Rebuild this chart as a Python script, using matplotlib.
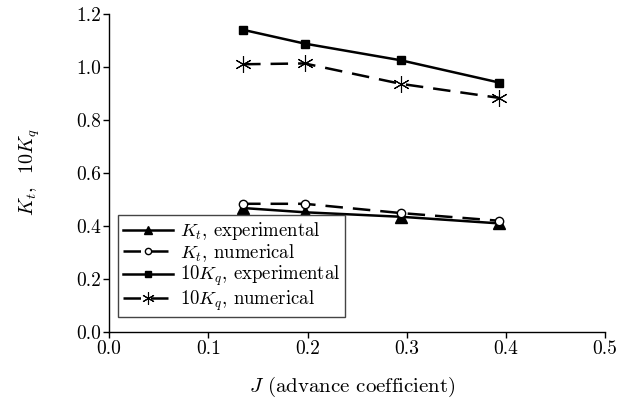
import matplotlib
matplotlib.use("Agg")
import matplotlib.pyplot as plt
from matplotlib.ticker import FormatStrFormatter, MultipleLocator

plt.rcParams['font.family'] = ['cmr10', 'DejaVu Serif']
plt.rcParams['mathtext.fontset'] = 'cm'
plt.rcParams['axes.formatter.use_mathtext'] = True

J = [0.135, 0.197, 0.294, 0.393]
kt_exp = [0.467, 0.451, 0.434, 0.409]
kt_num = [0.483, 0.483, 0.448, 0.419]
kq_exp = [1.140, 1.088, 1.025, 0.941]
kq_num = [1.010, 1.013, 0.936, 0.883]

fig = plt.figure(figsize=(6.31, 3.98), dpi=100)
ax = fig.add_axes([0.173, 0.1666, 0.786, 0.7984])

lw = 1.8
dash = (0, (7, 4))
asterisk = (6, 2, 0)
ax.plot(J, kt_exp, color='black', lw=lw, marker='^', ms=8, label=r'$K_t$, experimental')
ax.plot(J, kt_num, color='black', lw=lw, ls=dash, marker='o', ms=6, mfc='white', mew=1.0,
        label=r'$K_t$, numerical')
ax.plot(J, kq_exp, color='black', lw=lw, marker='s', ms=6, label=r'$10K_q$, experimental')
ax.plot(J, kq_num, color='black', lw=lw, ls=dash, marker=asterisk, ms=12, mew=0.8,
        label=r'$10K_q$, numerical')

ax.set_xlim(0, 0.5)
ax.set_ylim(0, 1.2)
ax.xaxis.set_major_locator(MultipleLocator(0.1))
ax.yaxis.set_major_locator(MultipleLocator(0.2))
ax.xaxis.set_major_formatter(FormatStrFormatter('%.1f'))
ax.yaxis.set_major_formatter(FormatStrFormatter('%.1f'))
ax.spines['top'].set_visible(False)
ax.spines['right'].set_visible(False)
for s in ('left', 'bottom'):
    ax.spines[s].set_linewidth(1.0)
ax.tick_params(direction='out', length=4, width=1.0, labelsize=14, pad=2)

fig.text(352 / 631, 1 - 387 / 398, r'$J$ (advance coefficient)', fontsize=15,
         ha='center', va='center')
fig.text(30 / 631, 1 - 172 / 398, r'$K_t$,  $10K_q$', fontsize=14.5,
         ha='center', va='center', rotation=90)

leg = ax.legend(loc='lower left', bbox_to_anchor=(0.018, 0.045), fontsize=13.5,
                handlelength=2.7, handletextpad=0.35, borderpad=0.25, labelspacing=0.0,
                markerscale=0.75,
                fancybox=False, framealpha=1, edgecolor='#444444', borderaxespad=0)
leg.get_frame().set_linewidth(1.0)

fig.savefig('out.png', dpi=100)
